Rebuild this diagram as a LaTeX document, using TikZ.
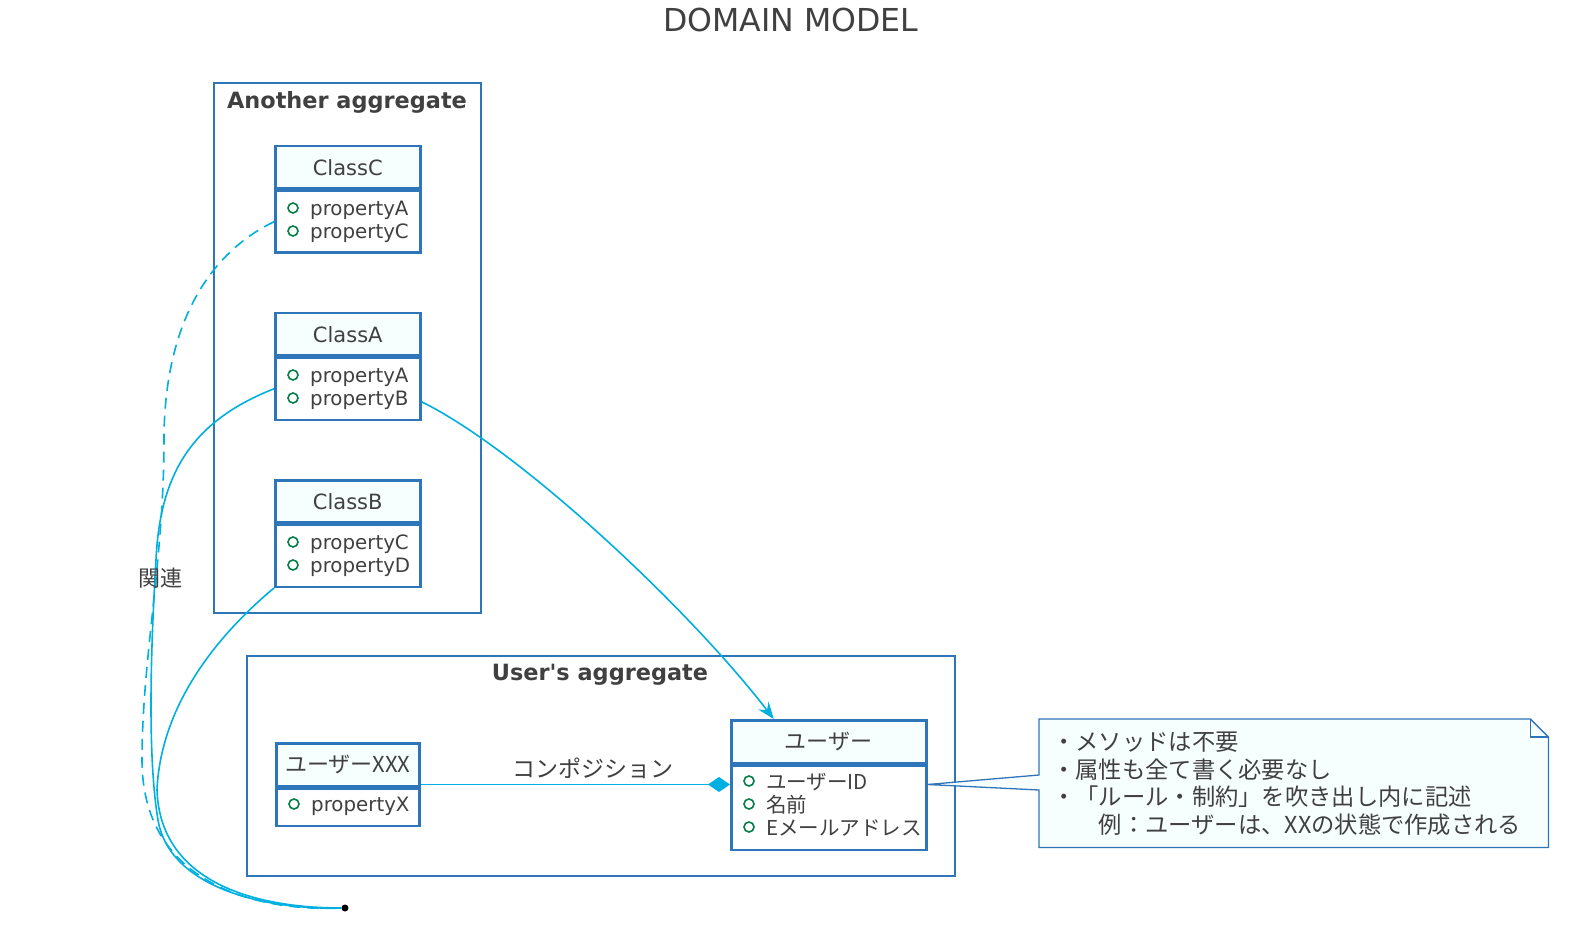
\documentclass[tikz,border=0pt]{standalone}
\usepackage{fontspec}
\setmainfont{DejaVu Sans}
\newfontfamily\jp{Noto Sans CJK JP}
\usetikzlibrary{arrows.meta,calc}
\definecolor{frameblue}{RGB}{46,117,186}
\definecolor{headfill}{RGB}{247,254,254}
\definecolor{conncol}{RGB}{0,176,224}
\definecolor{txt}{RGB}{64,64,64}
\definecolor{circgreen}{RGB}{3,128,72}
\tikzset{
  frame/.style={draw=frameblue, line width=2pt, inner sep=0pt, anchor=north west},
  headbox/.style={draw=frameblue, line width=2.5pt, fill=headfill, inner sep=0pt, anchor=north west},
  bodybox/.style={draw=frameblue, line width=2.5pt, fill=white, inner sep=0pt, anchor=north west},
  conn/.style={draw=conncol, line width=1.6pt},
  htxt/.style={text=txt, font=\fontsize{21}{24}\selectfont, inner sep=0pt},
  jhtxt/.style={text=txt, font=\jp\fontsize{22}{24}\selectfont, inner sep=0pt},
  ptxt/.style={text=txt, font=\fontsize{19.8}{22}\selectfont, inner sep=0pt, anchor=west},
  jptxt/.style={text=txt, font=\jp\fontsize{20.5}{22}\selectfont, inner sep=0pt, anchor=west},
  pcirc/.style={draw=circgreen, line width=1.6pt},
  ftitle/.style={text=txt, font=\bfseries\fontsize{22.4}{26}\selectfont, inner sep=0pt},
  ntxt/.style={text=txt, font=\jp\fontsize{23.3}{26}\selectfont, inner sep=0pt, anchor=west},
}
\begin{document}
\begin{tikzpicture}[x=1pt,y=-1pt]
\useasboundingbox[fill=white] (0,0) rectangle (1572,941);

\node[text=txt, font=\fontsize{31.6}{36}\selectfont, inner sep=0pt] (title) at (791,20) {DOMAIN MODEL};

% frames
\node[frame, minimum width=267pt, minimum height=530pt] (fA) at (213,82) {};
\node[ftitle] (fAt) at (347,102) {Another aggregate};
\node[frame, minimum width=708pt, minimum height=220pt] (fB) at (246,655) {};
\node[ftitle] (fBt) at (600,675) {User\textquotesingle s aggregate};

% ClassC
\node[headbox, minimum width=145pt, minimum height=42pt] (cCh) at (274,145) {};
\node[bodybox, minimum width=145pt, minimum height=62pt] (cCb) at (cCh.south west) {};
\node[htxt] (cCt) at (cCh.center) {ClassC};
\draw[pcirc] (293,208) circle[radius=5];
\node[ptxt] (cCp1) at (310,210) {propertyA};
\draw[pcirc] (293,231) circle[radius=5];
\node[ptxt] (cCp2) at (310,233) {propertyC};

% ClassA
\node[headbox, minimum width=145pt, minimum height=42pt] (cAh) at (274,312) {};
\node[bodybox, minimum width=145pt, minimum height=62pt] (cAb) at (cAh.south west) {};
\node[htxt] (cAt) at (cAh.center) {ClassA};
\draw[pcirc] (293,375) circle[radius=5];
\node[ptxt] (cAp1) at (310,377) {propertyA};
\draw[pcirc] (293,398) circle[radius=5];
\node[ptxt] (cAp2) at (310,400) {propertyB};

% ClassB
\node[headbox, minimum width=145pt, minimum height=42pt] (cBh) at (274,479) {};
\node[bodybox, minimum width=145pt, minimum height=62pt] (cBb) at (cBh.south west) {};
\node[htxt] (cBt) at (cBh.center) {ClassB};
\draw[pcirc] (293,542) circle[radius=5];
\node[ptxt] (cBp1) at (310,544) {propertyC};
\draw[pcirc] (293,565) circle[radius=5];
\node[ptxt] (cBp2) at (310,567) {propertyD};

% UserXXX
\node[headbox, minimum width=143pt, minimum height=43pt] (xh) at (275,742) {};
\node[bodybox, minimum width=143pt, minimum height=37pt] (xb) at (xh.south west) {};
\node[jhtxt] (xt) at (xh.center) {ユーザーXXX};
\draw[pcirc] (294,804) circle[radius=5];
\node[ptxt] (xp1) at (311,806) {propertyX};

% User
\node[headbox, minimum width=195pt, minimum height=43pt] (uh) at (730,719) {};
\node[bodybox, minimum width=195pt, minimum height=84pt] (ub) at (uh.south west) {};
\node[jhtxt] (ut) at (uh.center) {ユーザー};
\draw[pcirc] (749,781) circle[radius=5];
\node[jptxt] (up1) at (766,782) {ユーザーID};
\draw[pcirc] (749,804) circle[radius=5];
\node[jptxt] (up2) at (766,805) {名前};
\draw[pcirc] (749,827) circle[radius=5];
\node[jptxt] (up3) at (766,828) {Eメールアドレス};

% note
\coordinate (nanchor) at ($(ub.north east)+(0,20)$);
\node[inner sep=0pt, minimum width=509pt, minimum height=128pt, anchor=north west] (note) at (1039,719) {};
\draw[draw=frameblue, line width=1.3pt, fill=headfill]
  (note.north west) -- ($(note.north east)+(-18,0)$) -- ($(note.north east)+(0,18)$)
  -- (note.south east) -- (note.south west) -- ($(note.north west)+(0,71)$)
  -- (nanchor) -- ($(note.north west)+(0,56)$) -- cycle;
\draw[draw=frameblue, line width=1.3pt] ($(note.north east)+(-18,0)$) -- ($(note.north east)+(-18,18)$) -- ($(note.north east)+(0,18)$);
\node[ntxt] (nl1) at (1052,742) {・メソッドは不要};
\node[ntxt] (nl2) at (1052,770) {・属性も全て書く必要なし};
\node[ntxt] (nl3) at (1052,797) {・「ルール・制約」を吹き出し内に記述};
\node[ntxt] (nl4) at (1052,825) {　　例：ユーザーは、XXの状態で作成される};

% dot
\node[circle, fill=black, inner sep=0pt, minimum size=7pt] (dot) at (345,908) {};

% connectors
\draw[conn, dash pattern=on 11pt off 7pt]
  (cCb.west) .. controls (205,255) and (164,330) .. (164,440)
  .. controls (164,560) and (142,660) .. (142,760)
  .. controls (142,880) and (250,912) .. (dot.west);
\draw[conn]
  (cAb.west) .. controls (195,420) and (160,470) .. (156,560)
  .. controls (150,660) and (148,760) .. (158,820)
  .. controls (170,890) and (270,910) .. (dot.west);
\draw[conn]
  (cBb.south west) .. controls (200,650) and (160,720) .. (157,790)
  .. controls (160,880) and (250,908) .. (dot.west);
\node[text=txt, font=\jp\fontsize{22}{24}\selectfont, inner sep=1pt] (rel) at (160,578) {関連};

\draw[conn, -{Stealth[length=17pt,width=13pt,inset=6pt]}]
  ($(cAb.east)+(0,13)$) .. controls (520,450) and (690,610) .. ($(uh.north)+(-55,0)$);

\draw[conn, -{Diamond[length=22pt,width=15pt]}, fill=conncol]
  ($(xh.south east)+(0,-3)$) -- ($(ub.north west)+(0,20)$);
\node[text=txt, font=\jp\fontsize{23}{24}\selectfont, inner sep=0pt] (comp) at (593,768) {コンポジション};
\end{tikzpicture}
\end{document}
